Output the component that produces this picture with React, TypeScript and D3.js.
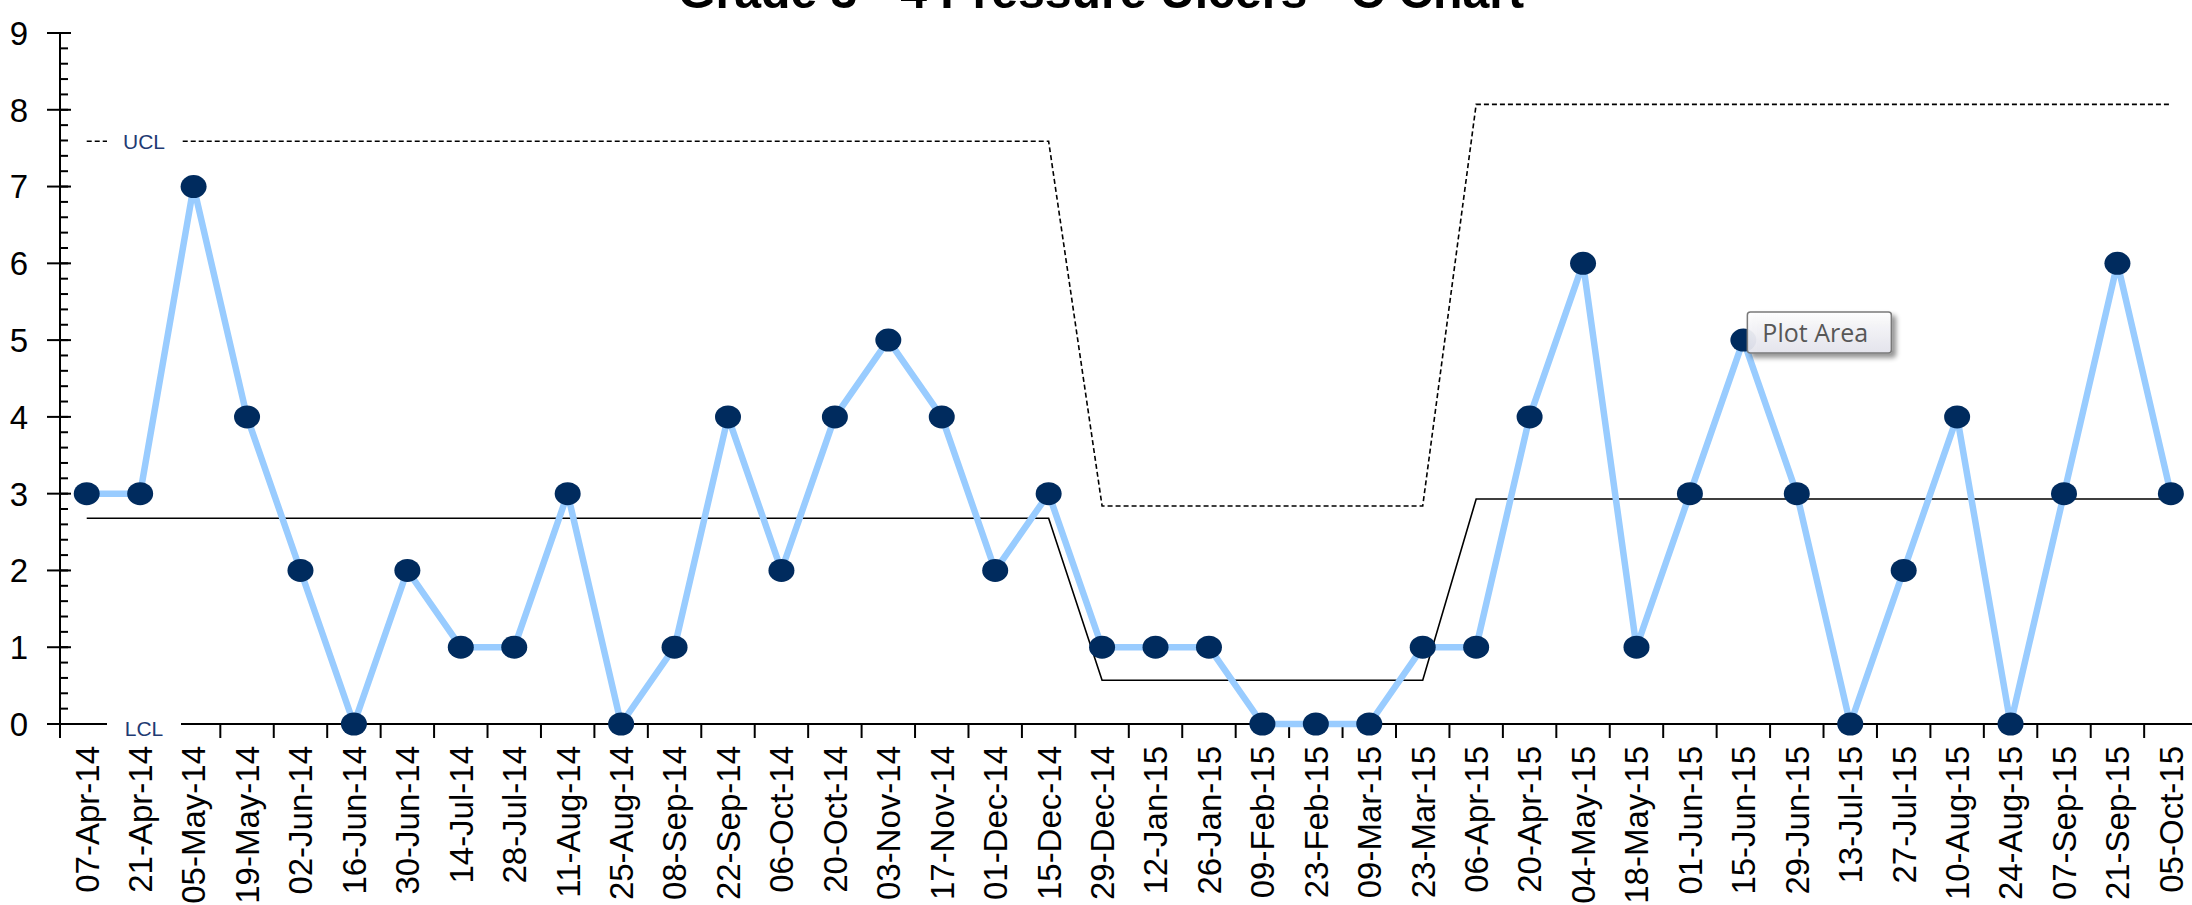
import { useEffect, useRef } from "react";
import * as d3 from "d3";

const dates = [
  "07-Apr-14", "21-Apr-14", "05-May-14", "19-May-14", "02-Jun-14", "16-Jun-14",
  "30-Jun-14", "14-Jul-14", "28-Jul-14", "11-Aug-14", "25-Aug-14", "08-Sep-14",
  "22-Sep-14", "06-Oct-14", "20-Oct-14", "03-Nov-14", "17-Nov-14", "01-Dec-14",
  "15-Dec-14", "29-Dec-14", "12-Jan-15", "26-Jan-15", "09-Feb-15", "23-Feb-15",
  "09-Mar-15", "23-Mar-15", "06-Apr-15", "20-Apr-15", "04-May-15", "18-May-15",
  "01-Jun-15", "15-Jun-15", "29-Jun-15", "13-Jul-15", "27-Jul-15", "10-Aug-15",
  "24-Aug-15", "07-Sep-15", "21-Sep-15", "05-Oct-15",
];

const counts = [
  3, 3, 7, 4, 2, 0, 2, 1, 1, 3, 0, 1, 4, 2, 4, 5, 4, 2, 3, 1,
  1, 1, 0, 0, 0, 1, 1, 4, 6, 1, 3, 5, 3, 0, 2, 4, 0, 3, 6, 3,
];

// control limit phases (index where each phase starts)
const phaseStart = [0, 19, 26];
const phaseCL = [2.68, 0.57, 2.93];
const phaseUCL = [7.59, 2.84, 8.07];
const phaseLCL = [0, 0, 0];

const yTicks = [0, 1, 2, 3, 4, 5, 6, 7, 8, 9];

const title = "Grade 3 - 4 Pressure Ulcers - C Chart";
const tipPoint = 31; // "Plot Area" tooltip sits next to this point

export default function App() {
  const svgRef = useRef<SVGSVGElement>(null);

  useEffect(() => {
    if (!svgRef.current) return;
    const svg = d3.select(svgRef.current);
    svg.selectAll("*").remove();

    const left = 60;
    const band = 53.44;
    const x = d3
      .scaleBand<string>()
      .domain(dates)
      .range([left, left + band * dates.length])
      .padding(0);
    const y = d3.scaleLinear().domain([0, 9]).range([724, 33]);
    const cx = (i: number) => (x(dates[i]) as number) + x.bandwidth() / 2;
    const font = "'Liberation Sans', Arial, sans-serif";

    const phaseOf = (i: number) => d3.bisectRight(phaseStart, i) - 1;
    const clSeries = dates.map((_, i) => phaseCL[phaseOf(i)]);
    const uclSeries = dates.map((_, i) => phaseUCL[phaseOf(i)]);
    const lclSeries = dates.map((_, i) => phaseLCL[phaseOf(i)]);

    const defs = svg.append("defs");
    const grad = defs
      .append("linearGradient")
      .attr("id", "tipGrad")
      .attr("x1", 0)
      .attr("y1", 0)
      .attr("x2", 0)
      .attr("y2", 1);
    grad.append("stop").attr("offset", "0%").attr("stop-color", "#ffffff");
    grad.append("stop").attr("offset", "100%").attr("stop-color", "#e6e6ef");
    defs
      .append("filter")
      .attr("id", "tipShadow")
      .attr("x", "-20%")
      .attr("y", "-20%")
      .attr("width", "150%")
      .attr("height", "170%")
      .append("feDropShadow")
      .attr("dx", 4)
      .attr("dy", 4)
      .attr("stdDeviation", 2.5)
      .attr("flood-color", "#000")
      .attr("flood-opacity", 0.45);

    // title (mostly cropped off the top)
    svg
      .append("text")
      .attr("x", 1101)
      .attr("y", 8)
      .attr("text-anchor", "middle")
      .attr("textLength", 846)
      .attr("lengthAdjust", "spacingAndGlyphs")
      .style("font-family", font)
      .style("font-weight", "bold")
      .style("font-size", "48px")
      .text(title);

    const line = d3
      .line<number>()
      .x((_, i) => cx(i))
      .y((d) => y(d));

    // center line
    svg
      .append("path")
      .attr("d", line(clSeries))
      .attr("fill", "none")
      .attr("stroke", "#000")
      .attr("stroke-width", 1.6);

    // UCL
    svg
      .append("path")
      .attr("d", line(uclSeries))
      .attr("fill", "none")
      .attr("stroke", "#000")
      .attr("stroke-width", 1.6)
      .attr("stroke-dasharray", "5,3");

    // LCL
    svg
      .append("path")
      .attr("d", line(lclSeries))
      .attr("fill", "none")
      .attr("stroke", "#000")
      .attr("stroke-width", 1.6);

    // axes
    const axis = svg.append("g").attr("stroke", "#000").attr("stroke-width", 2);
    axis
      .append("line")
      .attr("x1", left)
      .attr("x2", left)
      .attr("y1", y(9))
      .attr("y2", y(0) + 14);
    axis
      .append("line")
      .attr("x1", left)
      .attr("x2", 2192)
      .attr("y1", y(0))
      .attr("y2", y(0));

    const minor = d3.range(0, 9.001, 0.2);
    axis
      .selectAll(".minor")
      .data(minor)
      .enter()
      .append("line")
      .attr("x1", left)
      .attr("x2", left + 8)
      .attr("y1", (d) => y(d))
      .attr("y2", (d) => y(d));
    axis
      .selectAll(".major")
      .data(yTicks)
      .enter()
      .append("line")
      .attr("x1", left - 13)
      .attr("x2", left + 11)
      .attr("y1", (d) => y(d))
      .attr("y2", (d) => y(d));

    svg
      .append("g")
      .selectAll("text")
      .data(yTicks)
      .enter()
      .append("text")
      .attr("x", 28)
      .attr("y", (d) => y(d))
      .attr("dy", "0.36em")
      .attr("text-anchor", "end")
      .style("font-family", font)
      .style("font-size", "33px")
      .text((d) => d);

    // x ticks at category boundaries
    const bounds = dates.map((d) => x(d) as number).concat([left + band * dates.length]);
    axis
      .selectAll(".xtick")
      .data(bounds)
      .enter()
      .append("line")
      .attr("x1", (d) => d)
      .attr("x2", (d) => d)
      .attr("y1", y(0))
      .attr("y2", y(0) + 14);

    svg
      .append("g")
      .selectAll("text")
      .data(dates)
      .enter()
      .append("text")
      .attr("transform", (_, i) => `translate(${cx(i)},746) rotate(-90)`)
      .attr("text-anchor", "end")
      .attr("dy", "0.36em")
      .style("font-family", font)
      .style("font-size", "33px")
      .text((d) => d);

    // series
    svg
      .append("path")
      .attr("d", line(counts))
      .attr("fill", "none")
      .attr("stroke", "#99CCFF")
      .attr("stroke-width", 6.5)
      .attr("stroke-linejoin", "round");

    svg
      .append("g")
      .selectAll("ellipse")
      .data(counts)
      .enter()
      .append("ellipse")
      .attr("cx", (_, i) => cx(i))
      .attr("cy", (d) => y(d))
      .attr("rx", 13)
      .attr("ry", 11.5)
      .attr("fill", "#002B5E");

    // limit labels
    const labels = [
      { text: "UCL", v: phaseUCL[0], dy: 0 },
      { text: "LCL", v: phaseLCL[0], dy: 4 },
    ];
    const lg = svg.append("g").selectAll("g").data(labels).enter().append("g");
    lg.append("rect")
      .attr("x", 107)
      .attr("width", 74)
      .attr("y", (d) => y(d.v) - 14)
      .attr("height", (d) => (d.dy ? 30 : 28))
      .attr("fill", "#fff");
    lg.append("text")
      .attr("x", 144)
      .attr("y", (d) => y(d.v) + d.dy)
      .attr("dy", "0.36em")
      .attr("text-anchor", "middle")
      .style("font-family", font)
      .style("font-size", "21px")
      .style("fill", "#1F3B73")
      .text((d) => d.text);

    // "Plot Area" tooltip
    const tx = cx(tipPoint) + 4;
    const ty = y(counts[tipPoint]) - 28;
    svg
      .append("rect")
      .attr("x", tx)
      .attr("y", ty)
      .attr("width", 144)
      .attr("height", 41)
      .attr("rx", 3)
      .attr("fill", "url(#tipGrad)")
      .attr("fill-opacity", 0.93)
      .attr("stroke", "#7a7a7a")
      .attr("stroke-width", 1.5)
      .attr("filter", "url(#tipShadow)");
    svg
      .append("text")
      .attr("x", tx + 15)
      .attr("y", ty + 30)
      .style("font-family", "'Open Sans', 'Noto Sans', sans-serif")
      .style("font-size", "25px")
      .style("fill", "#575757")
      .text("Plot Area");
  }, []);

  return (
    <svg
      ref={svgRef}
      width={2192}
      height={905}
      viewBox="0 0 2192 905"
      style={{ position: "absolute", left: 0, top: 0, background: "#fff" }}
    />
  );
}
